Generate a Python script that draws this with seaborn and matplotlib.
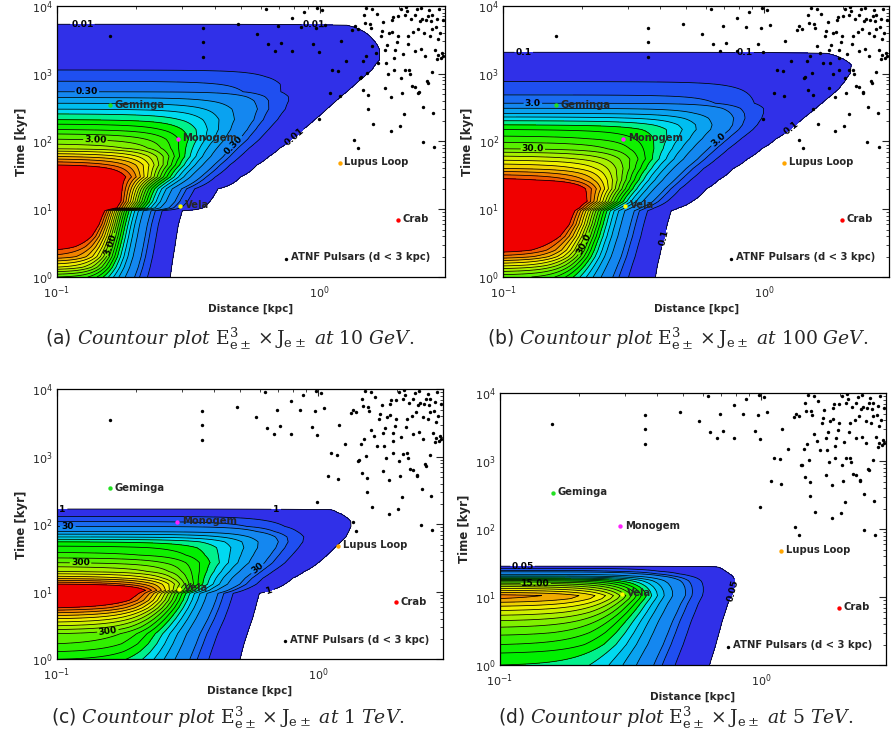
import numpy as np
import matplotlib
matplotlib.use("Agg")
import matplotlib.pyplot as plt
from matplotlib.ticker import LogLocator, NullFormatter
import seaborn as sns

# ---------------- data ----------------
# Field of E^3 x J per panel, described row by row (pulsar age in kyr):
# value at d = 0.1 kpc ("peak") and the distance where it falls to the lowest level ("reach", kpc)
a_age_kyr = [1, 1.4, 2, 2.8, 4, 6, 9.5, 10.5, 13, 20, 30, 45, 60, 80, 108, 150, 210, 300, 400,
             460, 542, 700, 900, 1135, 1600, 2260, 3150, 4500, 5200, 5600, 10000]
a_peak = [2.7, 3.9, 5.0, 5.6, 6.3, 7.0, 7.6, 7.8, 7.8, 7.3, 6.5, 5.4, 4.5, 3.5, 3.0, 2.4, 1.8, 1.2,
          0.75, 0.55, 0.3, 0.23, 0.15, 0.1, 0.07, 0.045, 0.03, 0.022, 0.018, 0, 0]
a_reach_kpc = [0.27, 0.273, 0.277, 0.281, 0.285, 0.29, 0.30, 0.36, 0.382, 0.41, 0.50, 0.577, 0.64,
               0.706, 0.783, 0.863, 0.957, 1.064, 1.157, 1.205, 1.27, 1.368, 1.475, 1.58, 1.69,
               1.69, 1.6, 1.42, 1.27, 1.27, 1.27]
a_levels = [0.01, 0.1, 0.2, 0.3, 0.6, 0.9, 1.2, 1.5, 1.8, 2.1, 2.4, 2.7, 3.0, 3.3, 3.6, 3.9, 4.2,
            4.5, 4.8, 5.1, 5.4]

b_age_kyr = [1, 1.5, 2, 2.5, 4, 6, 9.5, 10.5, 13, 20, 27, 40, 55, 78, 110, 150, 176, 220, 260, 309,
             367, 487, 600, 766, 1000, 1350, 1700, 2000, 2150, 10000]
b_peak = [28, 40, 50, 56, 65, 72, 76, 76, 75, 66, 55, 45, 38, 30, 25, 21, 18, 13, 9, 6, 3, 2, 1.5,
          1.0, 0.6, 0.35, 0.25, 0.2, 0, 0]
b_reach_kpc = [0.383, 0.39, 0.397, 0.402, 0.415, 0.425, 0.44, 0.47, 0.528, 0.60, 0.667, 0.76, 0.86,
               0.976, 1.11, 1.25, 1.317, 1.41, 1.49, 1.573, 1.66, 1.815, 1.93, 2.03, 2.13, 2.15,
               1.97, 1.74, 1.74, 1.74]
b_levels = [0.1, 1, 2, 3, 6, 9, 12, 15, 18, 21, 24, 27, 30, 33, 36, 39, 42, 45, 48, 51, 54]

c_age_kyr = [1, 1.3, 1.7, 2.4, 3, 4, 5.8, 7.5, 9.5, 10.5, 13, 16, 20, 27, 35, 45, 55, 65, 78, 93,
             110, 131, 150, 165, 172, 10000]
c_peak = [210, 240, 270, 300, 350, 420, 540, 620, 660, 660, 540, 440, 360, 300, 250, 220, 180, 120,
          60, 30, 20, 10, 5, 2, 0, 0]
c_reach_kpc = [0.502, 0.51, 0.52, 0.535, 0.545, 0.56, 0.575, 0.585, 0.595, 0.653, 0.745, 0.80,
               0.884, 1.0, 1.08, 1.156, 1.22, 1.276, 1.308, 1.334, 1.332, 1.266, 1.18, 1.11, 1.11,
               1.11]
c_levels = [1, 10, 20, 30, 60, 90, 120, 150, 180, 210, 240, 270, 300, 330, 360, 390, 420, 450, 480,
            510, 540]

d_age_kyr = [1, 1.5, 2, 3, 4.5, 6, 8, 9.5, 10.5, 12, 14, 16, 17.5, 19, 20.5, 22, 24, 26.5, 28, 29,
             10000]
d_peak = [9, 10.5, 12, 14, 16.5, 19, 22, 24, 24.5, 22, 18.5, 15, 12, 8, 4.5, 2.5, 1.2, 0.5, 0.1, 0, 0]
d_reach_kpc = [0.634, 0.655, 0.67, 0.69, 0.71, 0.728, 0.745, 0.76, 0.77, 0.78, 0.787, 0.79, 0.79,
               0.785, 0.775, 0.755, 0.73, 0.70, 0.66, 0.66, 0.66]
d_levels = [0.05, 0.5, 1, 1.5, 3, 4.5, 6, 7.5, 9, 10.5, 12, 13.5, 15, 16.5, 18, 19.5, 21, 22.5, 24,
            25.5, 27]

# labelled contour levels: (level, text)
a_label_levels = [(0.01, "0.01"), (0.3, "0.30"), (3.0, "3.00")]
b_label_levels = [(0.1, "0.1"), (3, "3.0"), (30, "30.0")]
c_label_levels = [(1, "1"), (30, "30"), (300, "300")]
d_label_levels = [(0.05, "0.05"), (15, "15.00")]

# ATNF pulsars (d < 3 kpc): log10 distance [kpc], log10 age [kyr]
atnf_log10_dist = [-0.799, -0.446, -0.446, -0.446, -0.312, -0.240, -0.204, -0.197, -0.169, -0.159,
                   -0.146, -0.106, -0.104, -0.070, -0.060, -0.025, -0.013, -0.010, -0.004, 0.010,
                   0.022, -0.004, 0.038, 0.048, 0.070, 0.076, 0.080, 0.102, 0.124, 0.134,
                   0.131, 0.146, 0.153, 0.157, 0.163, 0.166, 0.172, 0.175, 0.178, 0.182,
                   0.185, 0.185, 0.191, 0.194, 0.200, 0.204, 0.213, 0.223, 0.233, 0.236,
                   0.242, 0.248, 0.251, 0.255, 0.261, 0.264, 0.271, 0.271, 0.276, 0.280,
                   0.284, 0.284, 0.287, 0.293, 0.297, 0.299, 0.306, 0.310, 0.312, 0.316,
                   0.322, 0.325, 0.325, 0.327, 0.331, 0.335, 0.338, 0.340, 0.344, 0.348,
                   0.350, 0.357, 0.361, 0.363, 0.369, 0.373, 0.376, 0.378, 0.382, 0.386,
                   0.386, 0.389, 0.392, 0.395, 0.399, 0.401, 0.404, 0.408, 0.411, 0.414,
                   0.418, 0.420, 0.424, 0.427, 0.429, 0.433, 0.437, 0.439, 0.442, 0.446,
                   0.450, 0.452, 0.455, 0.459, 0.462, 0.465, 0.468, 0.471, 0.446, 0.427,
                   0.363, 0.310, 0.274, 0.217, 0.168, 0.201, 0.248, 0.144]
atnf_log10_age = [3.552, 3.676, 3.472, 3.253, 3.731, 3.587, 3.960, 3.432, 3.337, 3.701,
                  3.452, 3.821, 3.337, 3.696, 3.910, 3.442, 3.676, 3.975, 3.328, 3.940,
                  3.726, 2.331, 2.715, 3.054, 3.034, 2.670, 3.477, 3.183, 3.651, 3.701,
                  2.027, 1.908, 2.939, 2.949, 3.183, 2.765, 3.746, 3.258, 3.975, 3.014,
                  2.690, 2.481, 3.736, 3.676, 3.960, 2.257, 3.303, 3.163, 3.562, 3.636,
                  3.761, 3.347, 3.163, 3.427, 2.989, 3.597, 2.157, 2.655, 3.786, 3.836,
                  3.054, 3.228, 3.347, 3.462, 3.562, 3.846, 2.232, 2.939, 2.715, 3.288,
                  2.401, 3.861, 3.049, 3.985, 3.920, 3.437, 3.562, 3.054, 2.989, 3.801,
                  2.814, 3.611, 2.799, 3.337, 3.950, 3.661, 2.715, 2.730, 3.771, 3.362,
                  3.970, 3.801, 1.993, 2.516, 3.597, 3.263, 3.786, 2.889, 2.864, 3.851,
                  3.935, 3.562, 3.771, 3.024, 3.661, 2.416, 1.918, 3.352, 3.686, 3.213,
                  3.273, 3.512, 3.960, 3.601, 3.238, 3.313, 3.786, 3.263, 3.811, 3.861,
                  3.861, 3.960, 3.621, 3.885, 3.861, 3.402, 2.790, 3.661]

named_pulsars = ["Geminga", "Monogem", "Vela", "Lupus Loop", "Crab"]
named_dist_kpc = [0.159, 0.288, 0.294, 1.19, 1.98]
named_age_kyr = [342, 110, 11.1, 48, 7.0]
named_colors = ["#22e022", "#ff20ff", "#ffff00", "#ffa500", "#ff0000"]

legend_text = "ATNF Pulsars (d < 3 kpc)"
legend_dist_kpc = 0.745
legend_age_kyr = 1.85

panel_tags = ["(a)", "(b)", "(c)", "(d)"]
panel_energies = ["10", "100", "1", "5"]
panel_units = ["GeV", "GeV", "TeV", "TeV"]

# ---------------- style ----------------
sns.set_style("white")
plt.rcParams.update({
    "font.family": ["DejaVu Sans"],
    "mathtext.fontset": "custom",
    "mathtext.rm": "DejaVu Serif",
    "mathtext.it": "DejaVu Serif:italic",
    "mathtext.bf": "DejaVu Serif:bold",
    "mathtext.sf": "DejaVu Sans",
    "axes.edgecolor": "black",
    "axes.linewidth": 0.9,
})

band_colors = ["#3030e8", "#1f4ff0", "#1a6bf0", "#1487f0", "#0aa2f0", "#00bef0", "#00daf0",
               "#00f08c", "#00f000", "#10f000", "#30f000", "#58f000", "#80f000", "#a8f000",
               "#d0f000", "#f0f000", "#f0d200", "#f0aa00", "#f08200", "#f05a00", "#f00000"]

fig = plt.figure(figsize=(8.92, 7.47), dpi=100)

rects = [[0.0639, 0.6292, 0.4350, 0.3628],
         [0.5640, 0.6292, 0.4327, 0.3628],
         [0.0639, 0.1174, 0.4327, 0.3614],
         [0.5605, 0.1098, 0.4327, 0.3637]]
caption_xy = [(0.258, 0.5462), (0.760, 0.5462), (0.2556, 0.0388), (0.757, 0.0388)]

fields = [(a_age_kyr, a_peak, a_reach_kpc, a_levels, a_label_levels),
          (b_age_kyr, b_peak, b_reach_kpc, b_levels, b_label_levels),
          (c_age_kyr, c_peak, c_reach_kpc, c_levels, c_label_levels),
          (d_age_kyr, d_peak, d_reach_kpc, d_levels, d_label_levels)]

# where each labelled contour carries its label(s)
label_spots = [
    {0.01: [(0.125, 5400), (0.95, 5300), (0.82, 105)], 0.3: [(0.13, 540), (0.5, 70)],
     3.0: [(0.14, 108), (0.165, 2.9)]},
    {0.1: [(0.12, 2075), (0.84, 2075), (1.27, 157), (0.42, 3.7)], 3: [(0.13, 367), (0.667, 106)],
     30: [(0.13, 78), (0.2, 3.2)]},
    {1: [(0.105, 169), (0.69, 169), (0.65, 10.5)], 30: [(0.11, 93), (0.57, 25)],
     300: [(0.123, 27), (0.157, 2.4)]},
    {0.05: [(0.122, 28.6), (0.778, 12.4)], 15: [(0.137, 16.1)]},
]

KNEE, SOFT = 0.3, 0.08


def knee_profile(s):
    return SOFT * (np.logaddexp(0.0, (s - KNEE) / SOFT) - np.logaddexp(0.0, -KNEE / SOFT))


dist_grid = np.logspace(-1, np.log10(3.0), 400)
atnf_dist = 10 ** np.asarray(atnf_log10_dist)
atnf_age = 10 ** np.asarray(atnf_log10_age)

for i, (ages, peak, reach, levels, lab_levels) in enumerate(fields):
    ax = fig.add_axes(rects[i])
    ax.set_facecolor("white")
    ax.set_xscale("log")
    ax.set_yscale("log")
    ax.set_xlim(0.1, 3.0)
    ax.set_ylim(1, 1e4)

    L0 = levels[0]
    D, T = np.meshgrid(dist_grid, np.asarray(ages, dtype=float))
    P = np.asarray(peak, dtype=float)[:, None]
    Rch = np.asarray(reach, dtype=float)[:, None]
    s = (D - 0.1) / (Rch - 0.1)
    g = knee_profile(s) / knee_profile(1.0)
    Ps = np.where(P > 0, P, L0)
    F = np.where(P > 0, Ps * np.exp(-np.log(Ps / L0) * g), 0.0)

    ax.contourf(D, T, F, levels=list(levels) + [1e9], colors=band_colors, zorder=1)
    labelled = [lv for lv, _ in lab_levels]
    plain = [lv for lv in levels if lv not in labelled]
    ax.contour(D, T, F, levels=plain, colors="k", linewidths=0.55, zorder=2)
    for lv, txt in lab_levels:
        cs1 = ax.contour(D, T, F, levels=[lv], colors="k", linewidths=0.55, zorder=2)
        cs1.clabel(manual=label_spots[i][lv], fmt={lv: txt}, fontsize=6.6,
                   inline=True, inline_spacing=2, colors="k")
        for t in cs1.labelTexts:
            t.set_fontweight("bold")

    sns.scatterplot(x=atnf_dist, y=atnf_age, ax=ax, color="black", s=6, linewidth=0,
                    legend=False, zorder=3)
    for name, dd, tt, cc in zip(named_pulsars, named_dist_kpc, named_age_kyr, named_colors):
        ax.scatter([dd], [tt], s=10, color=cc, linewidths=0, zorder=4)
        ax.annotate(name, (dd, tt), xytext=(3.5, 0.5), textcoords="offset points",
                    va="center", ha="left", fontsize=7.2, fontweight="bold", zorder=5)
    ax.scatter([legend_dist_kpc], [legend_age_kyr], s=6, color="black", linewidths=0, zorder=4)
    ax.annotate(legend_text, (legend_dist_kpc, legend_age_kyr), xytext=(3.5, 1),
                textcoords="offset points", va="center", ha="left", fontsize=7.2,
                fontweight="bold", zorder=5)

    ax.xaxis.set_major_locator(LogLocator(base=10, subs=(1.0,)))
    ax.xaxis.set_minor_locator(LogLocator(base=10, subs=np.arange(2, 10)))
    ax.yaxis.set_major_locator(LogLocator(base=10, subs=(1.0,)))
    ax.yaxis.set_minor_locator(LogLocator(base=10, subs=np.arange(2, 10)))
    ax.xaxis.set_minor_formatter(NullFormatter())
    ax.yaxis.set_minor_formatter(NullFormatter())
    ax.tick_params(which="major", direction="in", length=5, width=0.8, top=True, right=True,
                   labelsize=8, pad=3)
    ax.tick_params(axis="x", which="major", pad=5)
    ax.tick_params(which="minor", direction="in", length=2.5, width=0.6, top=True, right=True)
    ax.set_xlabel("Distance [kpc]", fontsize=7.5, labelpad=2, fontweight="bold")
    ax.set_ylabel("Time [kyr]", fontsize=8.5, labelpad=3, fontweight="bold")
    for sp in ax.spines.values():
        sp.set_visible(True)
        sp.set_color("black")
        sp.set_linewidth(0.9)
        sp.set_zorder(6)

    cap = (r"$\mathsf{" + panel_tags[i] + r"}\ \mathit{Countour\ plot}\ "
           r"\mathrm{E}^{3}_{\mathrm{e}\pm}\times\mathrm{J}_{\mathrm{e}\pm}\ \mathit{at}\ \mathrm{"
           + panel_energies[i] + r"}\ \mathit{" + panel_units[i] + r".}$")
    fig.text(caption_xy[i][0], caption_xy[i][1], cap, ha="center", va="center", fontsize=13.5)

fig.savefig("out.png", dpi=100)
